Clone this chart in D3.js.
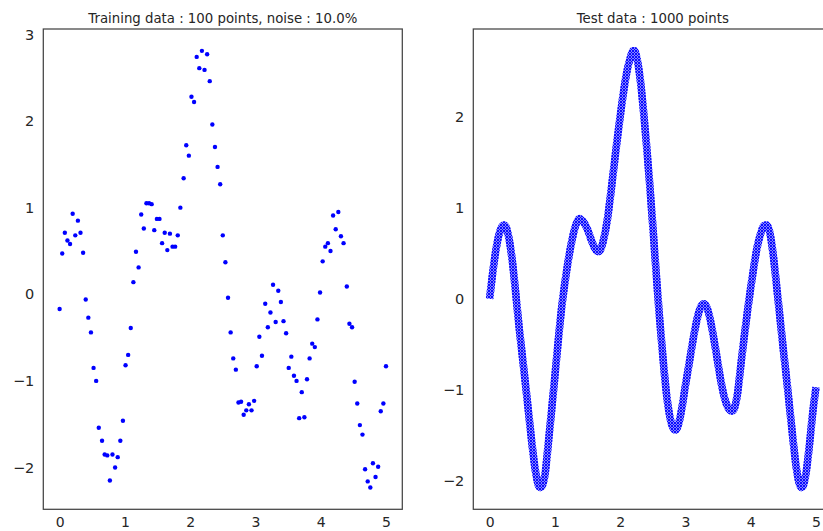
<!DOCTYPE html>
<html>
<head>
<meta charset="utf-8">
<script src="https://cdn.jsdelivr.net/npm/d3@7"></script>
<style>
  body { margin: 0; background: white; }
  text { font-family: "DejaVu Sans", sans-serif; fill: #262626; }
</style>
</head>
<body>
<div id="chart"></div>
<script>
// Training data
const trainX = [0.00,0.04,0.08,0.12,0.16,0.20,0.24,0.28,0.32,0.36,
  0.40,0.44,0.48,0.52,0.56,0.60,0.65,0.69,0.73,0.77,
  0.81,0.85,0.89,0.93,0.97,1.01,1.05,1.09,1.13,1.17,
  1.21,1.25,1.29,1.33,1.37,1.41,1.45,1.49,1.53,1.57,
  1.61,1.65,1.69,1.73,1.77,1.81,1.85,1.90,1.94,1.98,
  2.02,2.06,2.10,2.14,2.18,2.22,2.26,2.30,2.34,2.38,
  2.42,2.46,2.50,2.54,2.58,2.62,2.66,2.70,2.74,2.78,
  2.82,2.86,2.90,2.94,2.98,3.02,3.06,3.10,3.15,3.19,
  3.23,3.27,3.31,3.35,3.39,3.43,3.47,3.51,3.55,3.59,
  3.63,3.67,3.71,3.75,3.79,3.83,3.87,3.91,3.95,3.99,
  4.03,4.07,4.11,4.15,4.19,4.23,4.27,4.31,4.35,4.40,
  4.44,4.48,4.52,4.56,4.60,4.64,4.68,4.72,4.76,4.80,
  4.84,4.88,4.92,4.96,5.00]
const trainY = [-0.17,0.47,0.71,0.62,0.58,0.93,0.68,0.85,0.71,0.48,
  -0.06,-0.27,-0.44,-0.85,-1.00,-1.54,-1.69,-1.85,-1.86,-2.15,
  -1.85,-2.00,-1.88,-1.69,-1.46,-0.82,-0.70,-0.39,0.14,0.49,
  0.31,0.92,0.76,1.05,1.05,1.04,0.74,0.87,0.87,0.59,
  0.71,0.51,0.70,0.55,0.55,0.68,1.00,1.34,1.72,1.60,
  2.28,2.22,2.74,2.61,2.81,2.59,2.77,2.46,1.96,1.70,
  1.47,1.27,0.68,0.37,-0.04,-0.44,-0.74,-0.87,-1.25,-1.24,
  -1.39,-1.34,-1.27,-1.34,-1.23,-0.83,-0.49,-0.71,-0.11,-0.38,
  -0.21,0.11,-0.32,0.04,-0.09,-0.31,-0.45,-0.85,-0.72,-0.94,
  -1.00,-1.43,-1.13,-1.42,-0.98,-0.74,-0.57,-0.61,-0.29,0.02,
  0.38,0.55,0.59,0.50,0.91,0.75,0.95,0.67,0.59,0.09,
  -0.34,-0.38,-1.01,-1.26,-1.51,-1.62,-2.02,-2.16,-2.23,-1.95,
  -2.11,-1.99,-1.35,-1.26,-0.83]

// Test data (curve)
const testX = [0.00,0.05,0.10,0.15,0.20,0.22,0.25,0.30,0.35,0.40,
  0.45,0.50,0.55,0.60,0.65,0.70,0.75,0.78,0.80,0.85,
  0.90,0.95,1.00,1.05,1.10,1.15,1.20,1.25,1.30,1.35,
  1.38,1.40,1.45,1.50,1.55,1.60,1.65,1.68,1.70,1.75,
  1.80,1.85,1.90,1.95,2.00,2.05,2.10,2.15,2.20,2.22,
  2.25,2.30,2.35,2.40,2.45,2.50,2.55,2.60,2.65,2.70,
  2.75,2.80,2.85,2.90,2.95,3.00,3.05,3.10,3.15,3.20,
  3.25,3.28,3.30,3.35,3.40,3.45,3.50,3.55,3.60,3.65,
  3.70,3.72,3.75,3.80,3.85,3.90,3.95,4.00,4.05,4.10,
  4.15,4.20,4.24,4.30,4.35,4.40,4.45,4.50,4.55,4.60,
  4.65,4.70,4.75,4.78,4.80,4.85,4.90,4.95,5.00]
const testY = [0.00,0.30,0.55,0.72,0.80,0.81,0.79,0.65,0.40,0.06,
  -0.30,-0.62,-0.94,-1.27,-1.60,-1.88,-2.05,-2.07,-2.06,-1.92,
  -1.58,-1.22,-0.85,-0.47,-0.12,0.16,0.40,0.60,0.76,0.86,
  0.88,0.87,0.83,0.76,0.66,0.57,0.52,0.52,0.54,0.66,
  0.85,1.12,1.42,1.72,2.00,2.26,2.48,2.63,2.72,2.72,
  2.66,2.45,2.12,1.72,1.28,0.80,0.30,-0.18,-0.60,-0.98,
  -1.25,-1.40,-1.44,-1.36,-1.18,-0.95,-0.74,-0.52,-0.32,-0.16,
  -0.07,-0.055,-0.06,-0.14,-0.30,-0.50,-0.72,-0.93,-1.09,-1.19,
  -1.23,-1.23,-1.20,-1.03,-0.72,-0.42,-0.14,0.12,0.36,0.57,
  0.71,0.80,0.81,0.70,0.45,0.12,-0.22,-0.56,-0.88,-1.22,
  -1.56,-1.86,-2.04,-2.07,-2.06,-1.90,-1.60,-1.25,-0.97]

const xTicks = [0, 1, 2, 3, 4, 5]
const trainYTicks = [-2, -1, 0, 1, 2, 3]
const testYTicks = [-2, -1, 0, 1, 2]

const train = trainX.map((x, i) => ({x: x, y: trainY[i]}))
const test = testX.map((x, i) => ({x: x, y: testY[i]}))

var width = 823
var height = 531
var top_ = 29
var bottom = 509.3
var panelW = 359

let svg = d3.select("#chart")
  .append("svg")
  .attr("width", width)
  .attr("height", height)

// cross-hatch texture, stands in for the overlapping 'x' markers
let pat = svg.append("defs").append("pattern")
  .attr("id", "xmarks")
  .attr("patternUnits", "userSpaceOnUse")
  .attr("width", 3)
  .attr("height", 3)
pat.append("path")
  .attr("d", "M0,0L3,3M3,0L0,3")
  .attr("stroke", "blue")
  .attr("stroke-width", 0.9)

// matplotlib style 5% margins
function padded(ext) {
  let m = (ext[1] - ext[0]) * 0.05
  return [ext[0] - m, ext[1] + m]
}

function fmt(d) {
  return d < 0 ? "\u2212" + Math.abs(d) : String(d)
}

function panel(left, data, yTicks, title) {
  let xScale = d3.scaleLinear()
    .domain(padded(d3.extent(data, d => d.x)))
    .range([left, left + panelW])
  let yScale = d3.scaleLinear()
    .domain(padded(d3.extent(data, d => d.y)))
    .range([bottom, top_])

  let xAxis = d3.axisBottom(xScale).tickValues(xTicks).tickSize(0).tickPadding(8).tickFormat(fmt)
  let yAxis = d3.axisLeft(yScale).tickValues(yTicks).tickSize(0).tickPadding(9).tickFormat(fmt)

  svg.append("g")
    .attr("transform", "translate(0," + bottom + ")")
    .call(xAxis)
    .call(g => g.select(".domain").remove())
    .selectAll("text").attr("font-size", "14px").attr("font-family", "DejaVu Sans").style("fill", "#262626")

  svg.append("g")
    .attr("transform", "translate(" + left + ",0)")
    .call(yAxis)
    .call(g => g.select(".domain").remove())
    .selectAll("text").attr("font-size", "14.5px").attr("font-family", "DejaVu Sans").style("fill", "#262626")

  svg.append("text")
    .attr("x", left + panelW / 2)
    .attr("y", 22.5)
    .attr("text-anchor", "middle")
    .attr("font-size", "13.3px")
    .text(title)

  let plot = svg.append("g")
  // frame
  svg.append("rect")
    .attr("x", left)
    .attr("y", top_)
    .attr("width", panelW)
    .attr("height", bottom - top_)
    .attr("fill", "none")
    .attr("stroke", "#444")
    .attr("stroke-width", 1.25)

  return {x: xScale, y: yScale, g: plot}
}

let p1 = panel(43.3, train, trainYTicks, "Training data : 100 points, noise : 10.0%")
let p2 = panel(473.3, test, testYTicks, "Test data : 1000 points")

// training points
p1.g.selectAll("circle")
  .data(train)
  .enter().append("circle")
  .attr("cx", d => p1.x(d.x))
  .attr("cy", d => p1.y(d.y))
  .attr("r", 2.2)
  .attr("fill", "blue")

// test curve drawn as a thick band of 'x' markers
let line = d3.line()
  .x(d => p2.x(d.x))
  .y(d => p2.y(d.y))
  .curve(d3.curveMonotoneX)

p2.g.append("path")
  .datum(test)
  .attr("d", line)
  .attr("fill", "none")
  .attr("stroke", "#5a5aff")
  .attr("stroke-opacity", 0.75)
  .attr("stroke-width", 7.5)

p2.g.append("path")
  .datum(test)
  .attr("d", line)
  .attr("fill", "none")
  .attr("stroke", "url(#xmarks)")
  .attr("stroke-width", 7.5)
</script>
</body>
</html>
